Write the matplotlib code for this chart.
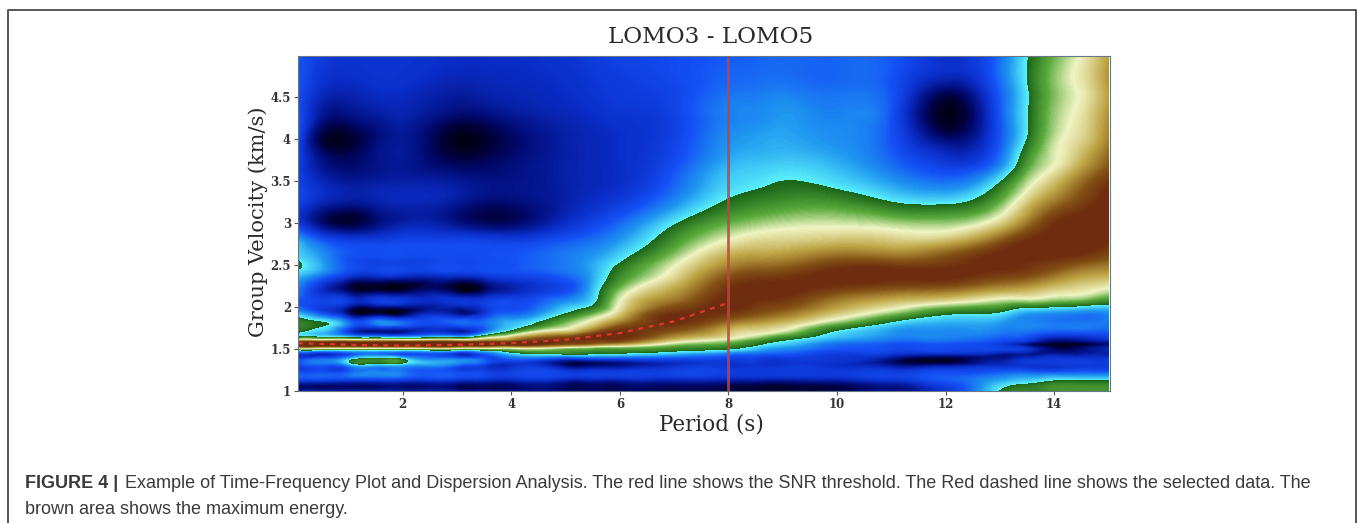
import numpy as np
import matplotlib
matplotlib.use("Agg")
import matplotlib.pyplot as plt
import matplotlib.tri as mtri
from matplotlib.colors import LinearSegmentedColormap
from matplotlib.lines import Line2D

W, H = 1358, 523

title = "LOMO3 - LOMO5"
x_label = "Period (s)"
y_label = "Group Velocity (km/s)"
x_ticks = [2, 4, 6, 8, 10, 12, 14]
y_ticks = [1, 1.5, 2, 2.5, 3, 3.5, 4, 4.5]
y_tick_labels = ["1", "1.5", "2", "2.5", "3", "3.5", "4", "4.5"]

periods = [0.07, 0.5, 1, 1.5, 2, 3, 3.5, 4, 5, 5.5, 6, 7, 8, 8.5, 9, 10, 11, 12, 13, 13.5, 14, 14.5, 15]
velocities = [1.0, 1.06, 1.12, 1.2, 1.3, 1.37, 1.44, 1.5, 1.53, 1.56, 1.59, 1.62, 1.7, 1.8, 1.92, 2.05,
              2.2, 2.4, 2.5, 2.6, 2.8, 3.0, 3.25, 3.5, 3.75, 4.0, 4.3, 4.6, 5.0]

# energy, one row per velocity, bottom row first
energy = [
    [14, 14, 14, 14, 14, 12, 11, 10, 8, 8, 7, 6, 5, 4, 4, 6, 12, 22, 50, 54, 56, 56, 56],
    [8, 8, 9, 9, 10, 8, 8, 8, 8, 8, 8, 8, 6, 5, 4, 6, 12, 25, 47, 52, 56, 56, 56],
    [22, 22, 20, 20, 20, 18, 17, 16, 14, 14, 14, 15, 14, 13, 12, 14, 20, 30, 42, 46, 50, 50, 50],
    [32, 32, 34, 38, 36, 30, 28, 26, 26, 26, 26, 26, 24, 24, 24, 24, 26, 30, 34, 36, 36, 36, 36],
    [26, 30, 36, 40, 40, 30, 24, 20, 10, 10, 12, 20, 22, 22, 22, 20, 14, 14, 20, 22, 22, 24, 24],
    [26, 35, 47, 54, 52, 38, 32, 28, 16, 18, 20, 24, 24, 24, 22, 22, 10, 2, 14, 22, 24, 24, 24],
    [20, 18, 28, 34, 28, 20, 30, 44, 50, 49, 48, 42, 34, 32, 30, 24, 22, 18, 14, 14, 14, 14, 16],
    [58, 58, 58, 58, 58, 58, 60, 62, 60, 58, 57, 54, 50, 44, 38, 30, 28, 28, 26, 22, 8, 10, 18],
    [84, 84, 84, 84, 84, 84, 82, 78, 72, 68, 65, 58, 54, 48, 42, 32, 29, 29, 25, 16, 4, 6, 14],
    [100, 100, 100, 100, 100, 100, 98, 96, 88, 84, 78, 64, 58, 52, 46, 34, 30, 30, 24, 12, 3, 3, 12],
    [84, 84, 84, 84, 84, 84, 86, 88, 92, 90, 88, 70, 62, 55, 49, 38, 33, 33, 27, 20, 8, 10, 16],
    [60, 60, 60, 60, 58, 60, 70, 78, 92, 93, 93, 76, 67, 60, 52, 42, 36, 36, 30, 26, 14, 16, 22],
    [50, 44, 24, 12, 12, 16, 34, 54, 74, 86, 94, 86, 74, 70, 65, 48, 40, 38, 36, 34, 30, 30, 30],
    [54, 51, 36, 36, 34, 32, 34, 44, 62, 72, 84, 93, 82, 78, 74, 60, 47, 42, 40, 38, 36, 36, 36],
    [44, 30, 10, 5, 4, 13, 22, 32, 50, 60, 73, 93, 92, 88, 84, 73, 62, 51, 48, 40, 38, 36, 38],
    [30, 26, 22, 22, 22, 22, 25, 28, 40, 48, 68, 85, 95, 93, 91, 81, 74, 68, 62, 60, 58, 56, 52],
    [36, 20, 7, 4, 3, 3, 7, 16, 28, 44, 62, 78, 93, 95, 95, 90, 86, 84, 78, 76, 72, 70, 66],
    [46, 38, 26, 24, 24, 24, 26, 28, 34, 42, 54, 70, 86, 89, 90, 95, 95, 95, 92, 90, 85, 80, 78],
    [52, 42, 30, 26, 26, 28, 29, 30, 36, 42, 51, 67, 81, 84, 85, 91, 91, 92, 95, 93, 90, 86, 83],
    [47, 40, 30, 28, 28, 28, 29, 30, 36, 40, 47, 63, 77, 79, 80, 85, 84, 88, 95, 95, 94, 92, 88],
    [42, 30, 24, 24, 26, 26, 25, 24, 30, 34, 40, 56, 68, 71, 72, 74, 73, 74, 86, 93, 96, 96, 94],
    [24, 10, 4, 10, 16, 12, 8, 8, 20, 26, 33, 49, 60, 63, 65, 66, 64, 63, 72, 83, 93, 96, 96],
    [26, 18, 14, 16, 18, 14, 10, 10, 16, 20, 24, 38, 51, 54, 56, 56, 50, 48, 60, 73, 83, 90, 96],
    [26, 18, 14, 15, 16, 14, 12, 12, 16, 18, 20, 32, 46, 48, 50, 47, 40, 34, 49, 64, 74, 84, 92],
    [26, 12, 8, 12, 14, 6, 7, 10, 16, 18, 20, 28, 42, 44, 45, 42, 33, 22, 35, 56, 67, 76, 86],
    [28, 5, 3, 10, 14, 1, 3, 8, 16, 18, 20, 26, 39, 41, 42, 39, 30, 10, 30, 50, 65, 72, 82],
    [30, 14, 12, 15, 17, 10, 11, 14, 18, 20, 22, 26, 37, 38, 40, 37, 30, 1, 30, 49, 63, 70, 80],
    [30, 20, 18, 20, 20, 16, 17, 18, 20, 22, 24, 27, 34, 35, 36, 34, 30, 10, 32, 49, 62, 69, 79],
    [30, 24, 22, 22, 22, 20, 20, 20, 22, 24, 26, 28, 31, 32, 33, 32, 30, 20, 33, 49, 60, 68, 78],
]

# picked dispersion curve
picked_period = [0.07, 1, 2, 3, 4, 5, 6, 7, 8]
picked_velocity = [1.57, 1.55, 1.54, 1.55, 1.57, 1.61, 1.69, 1.83, 2.05]
threshold_period = 8

stops = [
    (0.00, (0, 0, 15)),
    (0.05, (0, 0, 60)),
    (0.10, (0, 10, 115)),
    (0.20, (10, 45, 200)),
    (0.30, (20, 80, 245)),
    (0.40, (30, 150, 240)),
    (0.499, (90, 240, 250)),
    (0.50, (25, 100, 25)),
    (0.60, (90, 170, 60)),
    (0.68, (240, 245, 195)),
    (0.78, (190, 165, 70)),
    (0.88, (130, 80, 20)),
    (0.94, (110, 45, 15)),
    (1.00, (110, 45, 15)),
]
cmap = LinearSegmentedColormap.from_list(
    "energy", [(s, tuple(c / 255 for c in rgb)) for s, rgb in stops], N=512
)

fig = plt.figure(figsize=(W / 100, H / 100), dpi=100)

# outer frame of the page, open at the bottom
frame_x = [8 / W, 8 / W, 1356 / W, 1356 / W]
frame_y = [0, 1 - 9.5 / H, 1 - 9.5 / H, 0]
fig.add_artist(Line2D(frame_x, frame_y, transform=fig.transFigure, color="#555555", linewidth=1.4))

ax = fig.add_axes([298 / W, 1 - 391 / H, (1110 - 298) / W, (391 - 56) / H])

X, Y = np.meshgrid(periods, velocities)
tri = mtri.Triangulation(X.ravel(), Y.ravel())
fine_tri, fine_z = mtri.UniformTriRefiner(tri).refine_field(np.array(energy, float).ravel(), subdiv=3)
ax.tricontourf(fine_tri, np.clip(fine_z, 0, 100), levels=np.linspace(0, 100, 201),
               cmap=cmap, vmin=0, vmax=100, antialiased=False)

ax.plot(picked_period, picked_velocity, color="#e0352a", linewidth=1.6, linestyle=(0, (2.2, 2.6)))
ax.axvline(threshold_period, color="#c8403f", linewidth=2, alpha=0.85)

ax.set_xlim(0.07, 15.03)
ax.set_ylim(1.0, 4.99)
ax.set_xticks(x_ticks)
ax.set_yticks(y_ticks)
ax.set_yticklabels(y_tick_labels)
ax.tick_params(axis="both", length=3, width=0.8, color="#555555", labelsize=8.5, pad=2)
for label in ax.get_xticklabels() + ax.get_yticklabels():
    label.set_fontfamily("DejaVu Serif")
    label.set_fontweight("bold")
    label.set_color("#333333")
for spine in ax.spines.values():
    spine.set_color("#667788")
    spine.set_linewidth(0.8)

serif = dict(family="DejaVu Serif", color="#2a2a2a")
fig.text(711 / W, 1 - 37 / H, title, ha="center", va="center", fontsize=16.7, **serif)
fig.text(711 / W, 1 - 425 / H, x_label, ha="center", va="center", fontsize=15.5, **serif)
fig.text(258 / W, 1 - 222 / H, y_label, ha="center", va="center", rotation=90, fontsize=15.1, **serif)

sans = dict(family="Liberation Sans", fontsize=12.95, color="#3a3a3a", va="center")
fig.text(25 / W, 1 - 484 / H, "FIGURE 4 |", fontweight="bold", **sans)
fig.text(125 / W, 1 - 484 / H,
         "Example of Time-Frequency Plot and Dispersion Analysis. The red line shows the SNR threshold. "
         "The Red dashed line shows the selected data. The", **sans)
fig.text(25 / W, 1 - 510 / H, "brown area shows the maximum energy.", **sans)

fig.savefig("out.png", dpi=100)
